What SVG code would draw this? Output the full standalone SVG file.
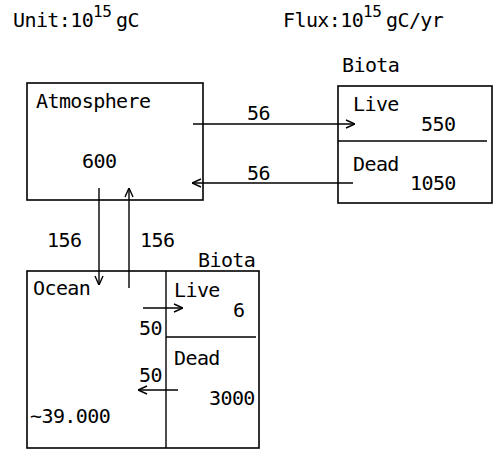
<svg xmlns="http://www.w3.org/2000/svg" width="494" height="451" viewBox="0 0 494 451">
<defs>
<style>
text{font-family:"DejaVu Sans Mono","Liberation Mono",monospace;font-size:20px;letter-spacing:-0.6px;fill:#000}
.sup{font-size:16px;letter-spacing:-0.5px}
.box{fill:none;stroke:#000;stroke-width:1.6}
.ln{fill:none;stroke:#000;stroke-width:1.4}
.con{fill:none;stroke:#000;stroke-width:1.4;marker-end:url(#ah)}
</style>
<marker id="ah" viewBox="0 0 10 10" refX="10" refY="5" markerWidth="10" markerHeight="10" markerUnits="userSpaceOnUse" orient="auto">
<path d="M1,1 L10,5 L1,9" fill="none" stroke="#000" stroke-width="1.4"/>
</marker>
</defs>
<rect width="494" height="451" fill="#fff"/>
<g id="header">
<text x="13" y="27">Unit:10</text><text class="sup" x="93" y="17">15</text><text x="116" y="27">gC</text>
<text x="283" y="27">Flux:10</text><text class="sup" x="363" y="17">15</text><text x="386" y="27">gC/yr</text>
</g>
<g id="atmosphere">
<rect class="box" x="27" y="83" width="176" height="117"/>
<text x="36" y="108">Atmosphere</text>
<text x="82" y="168">600</text>
</g>
<g id="land-biota">
<text x="342" y="72">Biota</text>
<rect class="box" x="338" y="86" width="154" height="117"/>
<line class="ln" x1="338" y1="141" x2="487" y2="141"/>
<text x="353" y="111">Live</text>
<text x="421" y="131">550</text>
<text x="353" y="171">Dead</text>
<text x="410" y="190">1050</text>
</g>
<g id="ocean">
<rect class="box" x="27" y="271" width="232" height="177"/>
<text x="33" y="295">Ocean</text>
<text x="30" y="423">~39.000</text>
</g>
<g id="ocean-biota">
<text x="198" y="267">Biota</text>
<line class="ln" x1="166" y1="271" x2="166" y2="448"/>
<line class="ln" x1="166" y1="337" x2="256" y2="337"/>
<text x="174" y="297">Live</text>
<text x="233" y="317">6</text>
<text x="174" y="365">Dead</text>
<text x="209" y="405">3000</text>
</g>
<g id="connectors">
<line class="con" x1="193" y1="124" x2="355" y2="124"/>
<line class="con" x1="353" y1="183" x2="192" y2="183"/>
<line class="con" x1="99" y1="188" x2="99" y2="285"/>
<line class="con" x1="129" y1="288" x2="129" y2="188"/>
<line class="con" x1="143" y1="308" x2="183" y2="308"/>
<line class="con" x1="178" y1="390" x2="138" y2="390"/>
<text x="247" y="120">56</text>
<text x="247" y="180">56</text>
<text x="47" y="247">156</text>
<text x="140" y="247">156</text>
<text x="139" y="335">50</text>
<text x="139" y="382">50</text>
</g>
</svg>
